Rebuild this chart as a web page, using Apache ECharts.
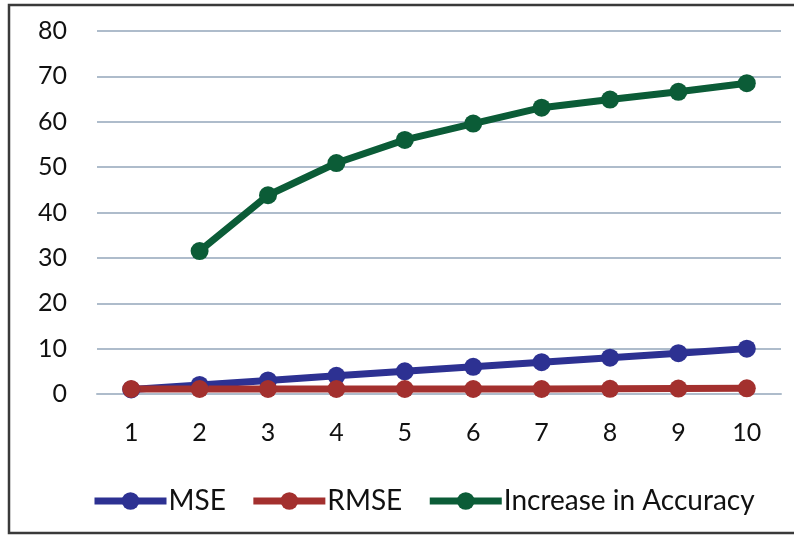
<!DOCTYPE html>
<html>
<head>
<meta charset="utf-8">
<script src="https://cdn.jsdelivr.net/npm/echarts@6/dist/echarts.min.js"></script>
<style>
  html, body { margin: 0; padding: 0; background: #fff; }
  #chart { width: 794px; height: 535px; }
</style>
</head>
<body>
<div id="chart"></div>
<script>
// Iteration number along the x axis
const categories = ['1', '2', '3', '4', '5', '6', '7', '8', '9', '10'];
// Error measures per iteration
const mseValues = [1, 2, 3, 4, 5, 6, 7, 8, 9, 10];
const rmseValues = [1.1, 1.1, 1.1, 1.1, 1.1, 1.1, 1.1, 1.15, 1.2, 1.25];
// Accuracy gain (no value for the first iteration)
const accuracyValues = [null, 31.5, 43.8, 50.9, 56, 59.6, 63.1, 64.9, 66.6, 68.5];
const yTicks = [0, 10, 20, 30, 40, 50, 60, 70, 80];

const FONT = 'Lato';
const GRID_COLOR = '#aebccb';

function lineSeries(name, data, color) {
  return {
    name: name,
    type: 'line',
    data: data,
    symbol: 'circle',
    symbolSize: 18,
    connectNulls: false,
    lineStyle: { color: color, width: 7 },
    itemStyle: { color: color },
    emphasis: { disabled: true },
    animation: false
  };
}

const chart = echarts.init(document.getElementById('chart'), null, { renderer: 'canvas' });
chart.setOption({
  backgroundColor: '#ffffff',
  animation: false,
  graphic: [{
    type: 'rect',
    shape: { x: 9, y: 5, width: 820, height: 528 },
    style: { fill: 'none', stroke: '#3a3a3a', lineWidth: 2.5 },
    silent: true
  }],
  grid: { left: 97, right: 13, top: 31, bottom: 141 },
  legend: {
    bottom: 15,
    left: 86,
    itemWidth: 72,
    itemHeight: 22,
    itemGap: 24,
    lineStyle: { width: 7 },
    textStyle: { fontFamily: FONT, fontSize: 28, color: '#111', padding: [0, 0, 0, -3] },
    data: ['MSE', 'RMSE', 'Increase in Accuracy']
  },
  xAxis: {
    type: 'category',
    data: categories,
    boundaryGap: true,
    axisLine: { show: true, lineStyle: { color: GRID_COLOR, width: 2 } },
    axisTick: { show: false },
    axisLabel: { fontFamily: FONT, fontSize: 25, color: '#111', margin: 26 }
  },
  yAxis: {
    type: 'value',
    min: yTicks[0],
    max: yTicks[yTicks.length - 1],
    interval: yTicks[1] - yTicks[0],
    axisLine: { show: false },
    axisTick: { show: false },
    splitLine: { lineStyle: { color: GRID_COLOR, width: 2 } },
    axisLabel: { fontFamily: FONT, fontSize: 25, color: '#111', margin: 30 }
  },
  series: [
    lineSeries('MSE', mseValues, '#2d3192'),
    lineSeries('RMSE', rmseValues, '#a3302e'),
    lineSeries('Increase in Accuracy', accuracyValues, '#0b5c37')
  ]
});
</script>
</body>
</html>
